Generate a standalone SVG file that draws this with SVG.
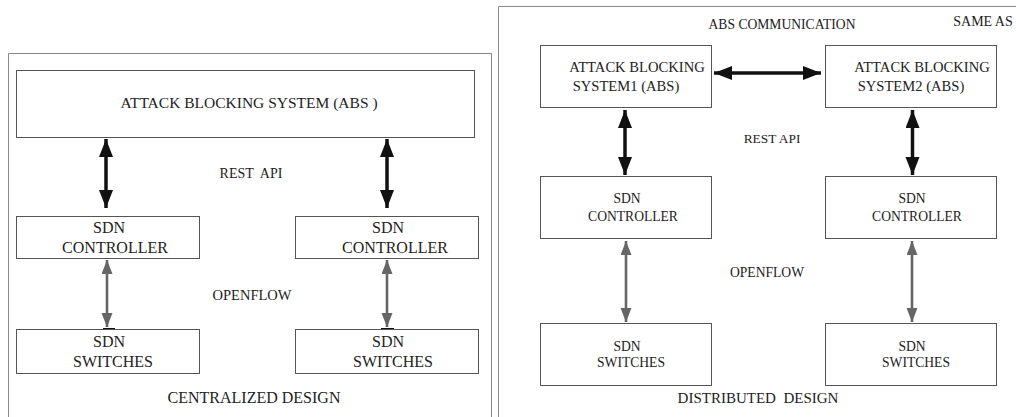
<svg xmlns="http://www.w3.org/2000/svg" width="1016" height="417" viewBox="0 0 1016 417">
<style>
text{fill:#222;text-anchor:middle;white-space:pre}
.box{fill:#fff;stroke:#555;stroke-width:1}
.panel{fill:none;stroke:#888;stroke-width:1}
.blk{stroke:#111;stroke-width:3.5;fill:none}
.gry{stroke:#666;stroke-width:2.6;fill:none}
.l{font-size:16px}
.r{font-size:13.6px}
</style>
<defs>
<marker id="hb" markerUnits="userSpaceOnUse" markerWidth="20" markerHeight="16" refX="18" refY="7" orient="auto-start-reverse">
<path d="M0,0 L18,7 L0,14 Z" fill="#111"/>
</marker>
<marker id="hg" markerUnits="userSpaceOnUse" markerWidth="16" markerHeight="14" refX="14" refY="5.5" orient="auto-start-reverse">
<path d="M0,0 L14,5.5 L0,11 Z" fill="#666"/>
</marker>
</defs>
<rect width="1016" height="417" fill="#fff"/>
<g id="panels">
<path class="panel" d="M8.5,417 V53.5 H491.5 V417"/>
<path class="panel" d="M498.5,417 V6.5 H1016"/>
</g>
<g id="connectors">
<line class="blk" x1="106" y1="139" x2="106" y2="208" marker-start="url(#hb)" marker-end="url(#hb)"/>
<line class="blk" x1="387" y1="139" x2="387" y2="208" marker-start="url(#hb)" marker-end="url(#hb)"/>
<line class="gry" x1="107" y1="260" x2="107" y2="327" marker-start="url(#hg)" marker-end="url(#hg)"/>
<line class="gry" x1="387" y1="260" x2="387" y2="327" marker-start="url(#hg)" marker-end="url(#hg)"/>
<line x1="103" y1="329" x2="115" y2="329" stroke="#111" stroke-width="2"/>
<line x1="381" y1="329" x2="394" y2="329" stroke="#111" stroke-width="2"/>
<line class="blk" x1="714" y1="73" x2="821" y2="73" marker-start="url(#hb)" marker-end="url(#hb)"/>
<line class="blk" x1="625" y1="110" x2="625" y2="175" marker-start="url(#hb)" marker-end="url(#hb)"/>
<line class="blk" x1="912.5" y1="110" x2="912.5" y2="175" marker-start="url(#hb)" marker-end="url(#hb)"/>
<line class="gry" x1="626" y1="241" x2="626" y2="322" marker-start="url(#hg)" marker-end="url(#hg)"/>
<line class="gry" x1="912" y1="241" x2="912" y2="322" marker-start="url(#hg)" marker-end="url(#hg)"/>
</g>
<g font-family="'Liberation Serif', 'DejaVu Serif', serif">
<g id="labels">
<text class="l" x="251" y="178" style="font-size:14px">REST  API</text>
<text class="l" x="252" y="300" style="font-size:14.5px">OPENFLOW</text>
<text class="l" x="254" y="403">CENTRALIZED DESIGN</text>
<text class="r" x="782" y="29">ABS COMMUNICATION</text>
<text class="r" x="983" y="26" style="font-size:14px">SAME AS</text>
<text class="r" x="772" y="143" style="font-size:13.4px">REST API</text>
<text class="r" x="767" y="277">OPENFLOW</text>
<text class="r" x="758" y="403" style="font-size:15px">DISTRIBUTED  DESIGN</text>
</g>
<g id="abs-central">
<rect class="box" x="16.5" y="70.5" width="458" height="67"/>
<text class="l" x="249" y="108" style="font-size:15.5px">ATTACK BLOCKING SYSTEM (ABS )</text>
</g>
<g id="ctrl-c1">
<rect class="box" x="16.5" y="216.5" width="183" height="42"/>
<text class="l" x="109" y="233">SDN</text>
<text class="l" x="115" y="253">CONTROLLER</text>
</g>
<g id="ctrl-c2">
<rect class="box" x="295.5" y="216.5" width="183" height="42"/>
<text class="l" x="388" y="233">SDN</text>
<text class="l" x="395" y="253">CONTROLLER</text>
</g>
<g id="sw-c1">
<rect class="box" x="16.5" y="329.5" width="183" height="44"/>
<text class="l" x="109" y="347">SDN</text>
<text class="l" x="113" y="367">SWITCHES</text>
</g>
<g id="sw-c2">
<rect class="box" x="295.5" y="329.5" width="183" height="44"/>
<text class="l" x="388" y="347">SDN</text>
<text class="l" x="393" y="367">SWITCHES</text>
</g>
<g id="abs1">
<rect class="box" x="540.5" y="45.5" width="171" height="62"/>
<text class="r" x="637" y="72" style="font-size:14.6px">ATTACK BLOCKING</text>
<text class="r" x="626" y="91" style="font-size:14.6px">SYSTEM1 (ABS)</text>
</g>
<g id="abs2">
<rect class="box" x="825.5" y="45.5" width="171" height="62"/>
<text class="r" x="922" y="72" style="font-size:14.6px">ATTACK BLOCKING</text>
<text class="r" x="911" y="91" style="font-size:14.6px">SYSTEM2 (ABS)</text>
</g>
<g id="ctrl-d1">
<rect class="box" x="540.5" y="176.5" width="171" height="62"/>
<text class="r" x="627" y="203">SDN</text>
<text class="r" x="633" y="221">CONTROLLER</text>
</g>
<g id="ctrl-d2">
<rect class="box" x="825.5" y="176.5" width="171" height="62"/>
<text class="r" x="912" y="203">SDN</text>
<text class="r" x="917" y="221">CONTROLLER</text>
</g>
<g id="sw-d1">
<rect class="box" x="540.5" y="323.5" width="171" height="62"/>
<text class="r" x="627" y="351">SDN</text>
<text class="r" x="631" y="367">SWITCHES</text>
</g>
<g id="sw-d2">
<rect class="box" x="825.5" y="323.5" width="171" height="62"/>
<text class="r" x="912" y="351">SDN</text>
<text class="r" x="916" y="367">SWITCHES</text>
</g>
</g>
</svg>
